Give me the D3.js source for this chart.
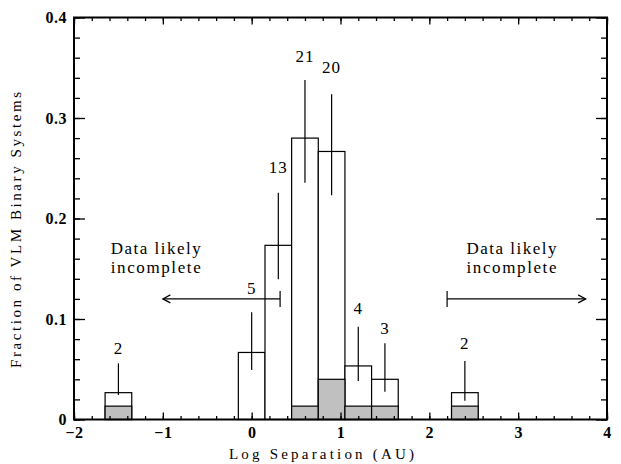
<!DOCTYPE html>
<html>
<head>
<meta charset="utf-8">
<script src="https://cdn.jsdelivr.net/npm/d3@7"></script>
<style>
  body { margin: 0; background: #fff; }
  svg { display: block; }
  text { font-family: "Liberation Serif", serif; fill: #000; }
</style>
</head>
<body>
<div id="chart"></div>
<script>
// bin centres (log AU), bin width 0.3
var binCenters = [-1.5, 0.0, 0.3, 0.6, 0.9, 1.2, 1.5, 2.4];
var binWidth = 0.3;
// fraction of all systems in each bin (open bars)
var totalFrac = [0.0267, 0.0667, 0.1733, 0.28, 0.2667, 0.0533, 0.04, 0.0267];
// shaded part of each bin
var shadedFrac = [0.0133, 0, 0, 0.0133, 0.04, 0.0133, 0.0133, 0.0133];
// error bar limits
var errLo = [0.0244, 0.0493, 0.1395, 0.2356, 0.2231, 0.0383, 0.0277, 0.0187];
var errHi = [0.0559, 0.1067, 0.2257, 0.3378, 0.3236, 0.0923, 0.0758, 0.0582];
// number of systems per bin, and where the number sits (fraction units)
var counts = ["2", "5", "13", "21", "20", "4", "3", "2"];
var countY = [0.0652, 0.1249, 0.245, 0.3557, 0.3451, 0.1047, 0.0848, 0.0701];

var xTicks = [-2, -1, 0, 1, 2, 3, 4];
var yTicks = [0, 0.1, 0.2, 0.3, 0.4];

// "Data likely incomplete" annotations
var arrows = [
  {from: 0.32, to: -1.0, y: 0.12, textX: -1.08},
  {from: 2.2, to: 3.76, y: 0.12, textX: 2.925}
];
var noteLines = ["Data likely", "incomplete"];
var noteY = [0.1644, 0.1455];

var W = 621, H = 464;
var x = d3.scaleLinear().domain([-2, 4]).range([74, 607]);
var y = d3.scaleLinear().domain([0, 0.4]).range([419.5, 17.5]);

var svg = d3.select("#chart").append("svg")
    .attr("width", W)
    .attr("height", H);

var bins = binCenters.map(function(c, i) {
  return {c: c, tot: totalFrac[i], sh: shadedFrac[i], lo: errLo[i],
          hi: errHi[i], n: counts[i], ny: countY[i]};
});

// open bars
svg.selectAll("rect.open")
  .data(bins)
  .enter().append("rect")
    .attr("class", "open")
    .attr("x", function(d) { return x(d.c - binWidth / 2); })
    .attr("width", function(d) { return x(d.c + binWidth / 2) - x(d.c - binWidth / 2); })
    .attr("y", function(d) { return y(d.tot); })
    .attr("height", function(d) { return y(0) - y(d.tot); })
    .attr("fill", "#fff")
    .attr("stroke", "#000")
    .attr("stroke-width", 1.2);

// shaded bars
svg.selectAll("rect.shaded")
  .data(bins.filter(function(d) { return d.sh > 0; }))
  .enter().append("rect")
    .attr("class", "shaded")
    .attr("x", function(d) { return x(d.c - binWidth / 2); })
    .attr("width", function(d) { return x(d.c + binWidth / 2) - x(d.c - binWidth / 2); })
    .attr("y", function(d) { return y(d.sh); })
    .attr("height", function(d) { return y(0) - y(d.sh); })
    .attr("fill", "#c0c0c0")
    .attr("stroke", "#000")
    .attr("stroke-width", 1.2);

// error bars
svg.selectAll("line.err")
  .data(bins)
  .enter().append("line")
    .attr("class", "err")
    .attr("x1", function(d) { return x(d.c); })
    .attr("x2", function(d) { return x(d.c); })
    .attr("y1", function(d) { return y(d.lo); })
    .attr("y2", function(d) { return y(d.hi); })
    .attr("stroke", "#000")
    .attr("stroke-width", 1.2);

// counts
svg.selectAll("text.count")
  .data(bins)
  .enter().append("text")
    .attr("class", "count")
    .attr("x", function(d) { return x(d.c); })
    .attr("y", function(d) { return y(d.ny); })
    .attr("text-anchor", "middle")
    .style("font-size", "17px")
    .style("letter-spacing", "1px")
    .text(function(d) { return d.n; });

// arrows
arrows.forEach(function(a) {
  var g = svg.append("g").attr("stroke", "#000").attr("stroke-width", 1.2)
    .attr("fill", "none");
  var dir = a.to > a.from ? 1 : -1;
  g.append("line")
    .attr("x1", x(a.from)).attr("x2", x(a.to))
    .attr("y1", y(a.y)).attr("y2", y(a.y));
  g.append("line")
    .attr("x1", x(a.from)).attr("x2", x(a.from))
    .attr("y1", y(a.y) - 8).attr("y2", y(a.y) + 8);
  g.append("path")
    .attr("d", "M" + (x(a.to) - dir * 7.5) + "," + (y(a.y) - 4) +
               "L" + x(a.to) + "," + y(a.y) +
               "L" + (x(a.to) - dir * 7.5) + "," + (y(a.y) + 4));
  noteLines.forEach(function(s, i) {
    svg.append("text")
      .attr("x", x(a.textX))
      .attr("y", y(noteY[i]))
      .attr("text-anchor", "middle")
      .attr("textLength", 90)
      .attr("lengthAdjust", "spacing")
      .style("font-size", "17px")
      .text(s);
  });
});

// axes: inward ticks on all four sides
function minorX() { return d3.range(-2, 4.001, 0.2); }
function minorY() { return d3.range(0, 0.4001, 0.02); }
var fmtX = d3.format("d");
var fmtY = function(d) { return d === 0 ? "0" : d3.format(".1f")(d); };

var axB = svg.append("g").attr("transform", "translate(0," + y(0) + ")")
  .call(d3.axisBottom(x).tickValues(minorX()).tickSize(-3.5).tickFormat(""));
var axBM = svg.append("g").attr("transform", "translate(0," + y(0) + ")")
  .call(d3.axisBottom(x).tickValues(xTicks).tickSize(-7).tickPadding(12)
    .tickFormat(function(d) { return d < 0 ? "\u2212" + fmtX(-d) : fmtX(d); }));
var axT = svg.append("g").attr("transform", "translate(0," + y(0.4) + ")")
  .call(d3.axisTop(x).tickValues(minorX()).tickSize(-3.5).tickFormat(""));
var axTM = svg.append("g").attr("transform", "translate(0," + y(0.4) + ")")
  .call(d3.axisTop(x).tickValues(xTicks).tickSize(-7).tickFormat(""));
var axL = svg.append("g").attr("transform", "translate(" + x(-2) + ",0)")
  .call(d3.axisLeft(y).tickValues(minorY()).tickSize(-6).tickFormat(""));
var axLM = svg.append("g").attr("transform", "translate(" + x(-2) + ",0)")
  .call(d3.axisLeft(y).tickValues(yTicks).tickSize(-11).tickPadding(18)
    .tickFormat(fmtY));
var axR = svg.append("g").attr("transform", "translate(" + x(4) + ",0)")
  .call(d3.axisRight(y).tickValues(minorY()).tickSize(-6).tickFormat(""));
var axRM = svg.append("g").attr("transform", "translate(" + x(4) + ",0)")
  .call(d3.axisRight(y).tickValues(yTicks).tickSize(-11).tickFormat(""));

svg.selectAll(".domain").remove();
svg.selectAll(".tick line").attr("stroke", "#000").attr("stroke-width", 1.3);
svg.selectAll(".tick text")
  .style("font-family", "Liberation Serif, serif")
  .style("font-size", "16px")
  .style("font-weight", "bold")
  .style("letter-spacing", "0.5px")
  .attr("fill", "#000");
axBM.selectAll(".tick text").attr("dy", "0.4em");
axLM.selectAll(".tick text").attr("x", -7);

// frame
svg.append("rect")
  .attr("x", x(-2)).attr("y", y(0.4))
  .attr("width", x(4) - x(-2)).attr("height", y(0) - y(0.4))
  .attr("fill", "none").attr("stroke", "#000").attr("stroke-width", 2);

// axis titles
svg.append("text")
  .attr("x", (x(-2) + x(4)) / 2 - 19)
  .attr("y", 459)
  .attr("text-anchor", "middle")
  .attr("textLength", 185)
  .attr("lengthAdjust", "spacing")
  .style("font-size", "15px")
  .text("Log Separation (AU)");

svg.append("text")
  .attr("transform", "translate(21,230) rotate(-90)")
  .attr("text-anchor", "middle")
  .attr("textLength", 276)
  .attr("lengthAdjust", "spacing")
  .style("font-size", "15px")
  .text("Fraction of VLM Binary Systems");
</script>
</body>
</html>
